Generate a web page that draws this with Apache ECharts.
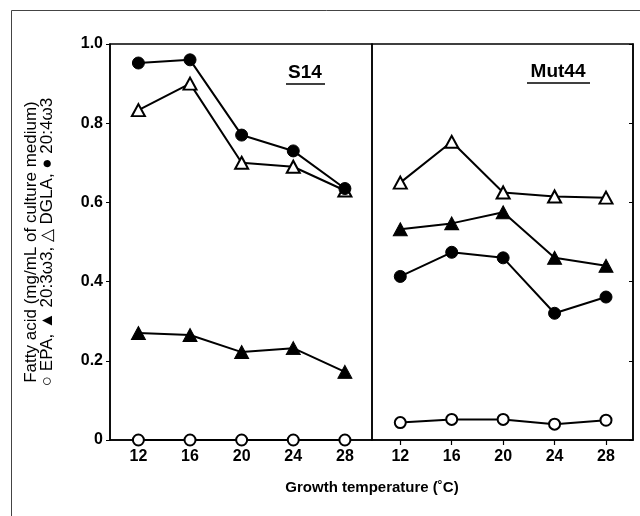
<!DOCTYPE html>
<html>
<head>
<meta charset="utf-8">
<script src="https://cdn.jsdelivr.net/npm/echarts@6/dist/echarts.min.js"></script>
<style>html,body{margin:0;padding:0;background:#fff;}#c{width:640px;height:516px;}</style>
</head>
<body>
<div id="c"></div>
<script>
var temps = [12, 16, 20, 24, 28];
var yTicks = [0, 0.2, 0.4, 0.6, 0.8, 1.0];
// S14
var s14_EPA = [0, 0, 0, 0, 0];
var s14_203w3 = [0.27, 0.265, 0.222, 0.232, 0.172];
var s14_DGLA = [0.833, 0.90, 0.70, 0.69, 0.63];
var s14_204w3 = [0.952, 0.96, 0.77, 0.73, 0.635];
// Mut44
var m44_EPA = [0.044, 0.052, 0.052, 0.04, 0.05];
var m44_203w3 = [0.532, 0.547, 0.575, 0.46, 0.44];
var m44_DGLA = [0.65, 0.753, 0.625, 0.615, 0.612];
var m44_204w3 = [0.413, 0.474, 0.46, 0.32, 0.361];

var FONT = '"Liberation Sans", Arial, sans-serif';
function pts(vals){ return temps.map(function(t,i){ return [t, vals[i]]; }); }
function ser(idx, vals, kind){
  var s = {type:'line', xAxisIndex:idx, yAxisIndex:idx, data:pts(vals), animation:false,
    lineStyle:{color:'#000', width:2}, z: 3};
  if(kind==='oc'){ s.symbol='circle'; s.symbolSize=11; s.itemStyle={color:'#fff', borderColor:'#000', borderWidth:2}; }
  if(kind==='fc'){ s.symbol='circle'; s.symbolSize=12; s.itemStyle={color:'#000', borderColor:'#000', borderWidth:1}; }
  if(kind==='ot'){ s.symbol='triangle'; s.symbolSize=[13,12]; s.itemStyle={color:'#fff', borderColor:'#000', borderWidth:2}; }
  if(kind==='ft'){ s.symbol='triangle'; s.symbolSize=[14,13]; s.itemStyle={color:'#000', borderColor:'#000', borderWidth:1}; }
  return s;
}
function xAx(idx){
  return {type:'value', gridIndex:idx, min:9.8, max:30.1, splitLine:{show:false},
    axisLine:{show:true, lineStyle:{color:'#000', width:1.5}},
    axisTick:{show:true, inside:false, length:5, customValues:temps, lineStyle:{color:'#000', width:1.2}},
    axisLabel:{customValues:temps, color:'#000', fontFamily:FONT, fontWeight:'bold', fontSize:16, margin:9}};
}
var option = {
  backgroundColor:'#fff',
  animation:false,
  grid:[
    {left:110, top:44, width:262, height:396, show:true, borderColor:'#000', borderWidth:1.5},
    {left:372, top:44, width:261, height:396, show:true, borderColor:'#000', borderWidth:1.5}
  ],
  xAxis:[xAx(0), xAx(1)],
  yAxis:[
    {type:'value', gridIndex:0, min:0, max:1, interval:0.2, splitLine:{show:false},
     axisLine:{show:true, lineStyle:{color:'#000', width:1.5}},
     axisTick:{show:true, length:4, lineStyle:{color:'#000'}},
     axisLabel:{color:'#000', fontFamily:FONT, fontWeight:'bold', fontSize:16, margin:7,
       formatter:function(v){ return v===0 ? '0' : v.toFixed(1); }},
     name:'Fatty acid (mg/mL of culture medium)\n\u25CB EPA, \u25B2 20:3\u03C93, \u25B3 DGLA, \u25CF 20:4\u03C93',
     nameLocation:'middle', nameRotate:90, nameGap:55,
     nameTextStyle:{color:'#000', fontFamily:FONT, fontSize:17, lineHeight:16, align:'center'}},
    {type:'value', gridIndex:1, min:0, max:1, interval:0.2, position:'right', splitLine:{show:false},
     axisLine:{show:true, lineStyle:{color:'#000', width:1.5}},
     axisTick:{show:true, inside:true, length:4, lineStyle:{color:'#000'}},
     axisLabel:{show:false}}
  ],
  graphic:[
    {type:'rect', shape:{x:11.5, y:10.5, width:660, height:540}, style:{fill:'none', stroke:'#444', lineWidth:1}, silent:true, z:0},
    {type:'text', x:305, y:73, style:{text:'S14', fill:'#000', font:'bold 19px '+FONT, textAlign:'center', textVerticalAlign:'middle'}, z:10},
    {type:'line', shape:{x1:286, y1:84, x2:325, y2:84}, style:{stroke:'#000', lineWidth:1.5}, z:10},
    {type:'text', x:558, y:72, style:{text:'Mut44', fill:'#000', font:'bold 19px '+FONT, textAlign:'center', textVerticalAlign:'middle'}, z:10},
    {type:'line', shape:{x1:527, y1:83, x2:590, y2:83}, style:{stroke:'#000', lineWidth:1.5}, z:10},
    {type:'text', x:372, y:488, style:{text:'Growth temperature (\u02DAC)', fill:'#000', font:'bold 15px '+FONT, textAlign:'center', textVerticalAlign:'middle'}, z:10}
  ],
  series:[
    ser(0, s14_EPA, 'oc'), ser(0, s14_203w3, 'ft'), ser(0, s14_DGLA, 'ot'), ser(0, s14_204w3, 'fc'),
    ser(1, m44_EPA, 'oc'), ser(1, m44_203w3, 'ft'), ser(1, m44_DGLA, 'ot'), ser(1, m44_204w3, 'fc')
  ]
};
var chart = echarts.init(document.getElementById('c'), null, {renderer:'canvas'});
chart.setOption(option);
</script>
</body>
</html>
